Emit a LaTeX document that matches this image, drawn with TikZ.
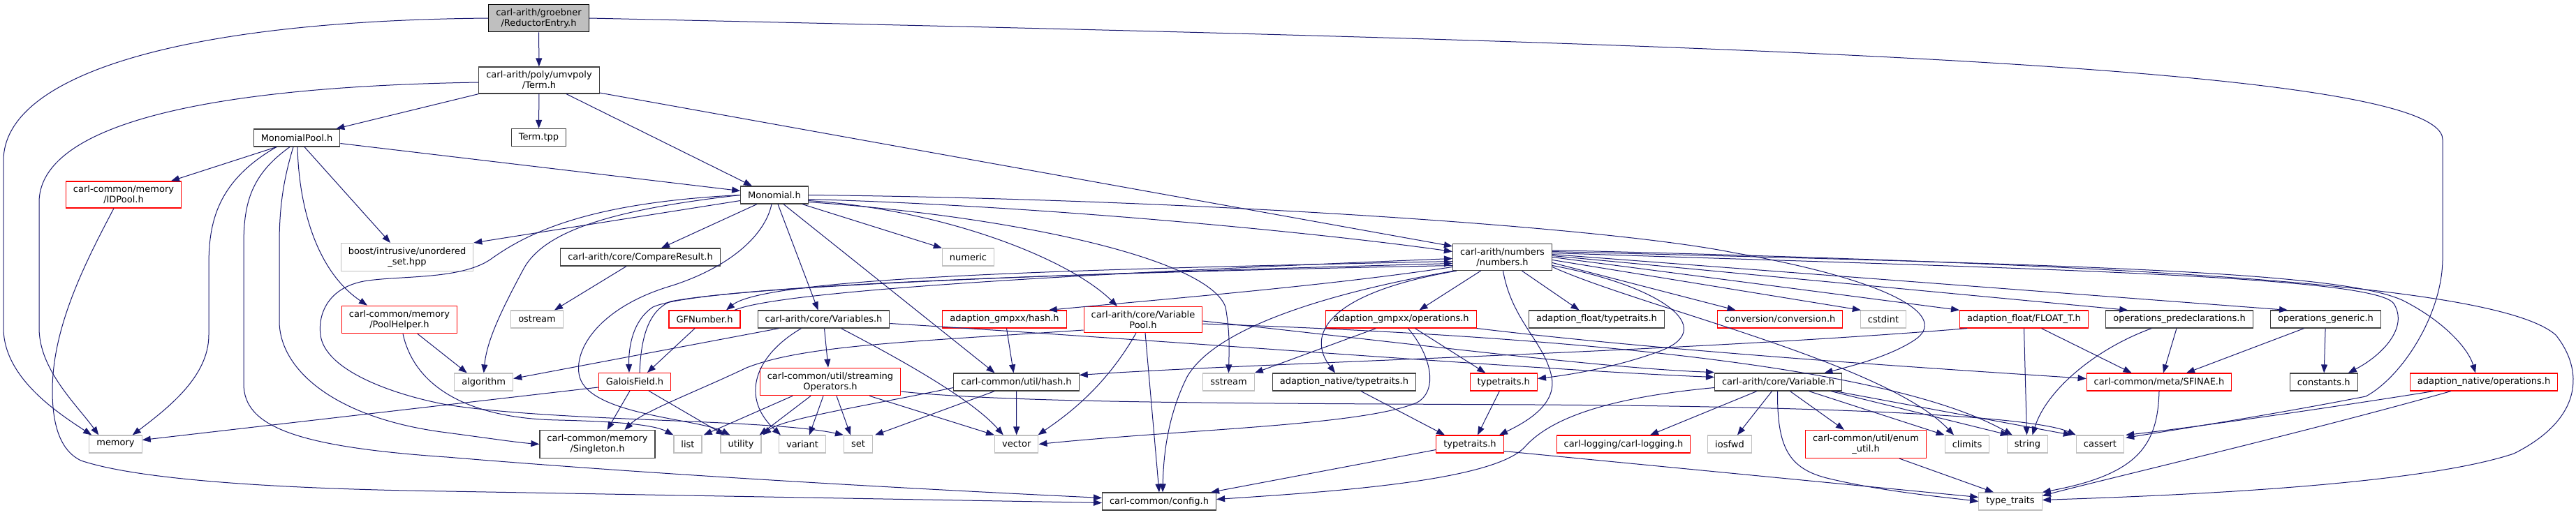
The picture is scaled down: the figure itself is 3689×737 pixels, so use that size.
\documentclass[tikz,border=0pt]{standalone}
\usepackage{fontspec}
\setmainfont{DejaVu Sans}
\usepackage{tikz}
\usetikzlibrary{arrows.meta, calc}
\definecolor{edgeblue}{RGB}{25,25,112}
\definecolor{boxgrey}{RGB}{64,64,64}
\definecolor{sysgrey}{RGB}{191,191,191}
\definecolor{rootfill}{RGB}{191,191,191}

\begin{document}
\begin{tikzpicture}[
    x=1pt, y=-1pt,
    base/.style={rectangle, line width=1.2pt, align=center, inner xsep=10.5pt, inner ysep=6pt,
                 minimum height=25pt, font=\fontsize{13}{15}\selectfont, fill=white},
    rootbox/.style={base, draw=black, fill=rootfill},
    filebox/.style={base, draw=boxgrey},
    redbox/.style={base, draw=red},
    sysbox/.style={base, draw=sysgrey},
    incl/.style={draw=edgeblue, line width=1pt, -{Triangle[length=12pt, width=9pt]}}
]
\path[use as bounding box, fill=white] (0,0) rectangle (3689,737);

\node[rootbox] (reductor) at (771.5,26) {carl-arith/groebner\\/ReductorEntry.h};
\node[filebox] (term) at (772,115) {carl-arith/poly/umvpoly\\/Term.h};
\node[filebox] (termtpp) at (771.5,197) {Term.tpp};
\node[filebox] (monopool) at (425,197.5) {MonomialPool.h};
\node[redbox] (idpool) at (177,279) {carl-common/memory\\/IDPool.h};
\node[filebox] (monomial) at (1109,279.5) {Monomial.h};
\node[sysbox] (boost) at (583,368.5) {boost/intrusive/unordered\\\_set.hpp};
\node[filebox] (compare) at (917,368.5) {carl-arith/core/CompareResult.h};
\node[sysbox] (numeric) at (1386.5,368.5) {numeric};
\node[filebox] (numbers) at (2151.5,368.5) {carl-arith/numbers\\/numbers.h};
\node[sysbox] (memory) at (165.5,636.5) {memory};
\node[redbox] (poolhelper) at (572,458) {carl-common/memory\\/PoolHelper.h};
\node[sysbox] (ostream) at (769,457.5) {ostream};
\node[sysbox] (algorithm) at (692.75,547.5) {algorithm};
\node[redbox] (gfnumber) at (1009,457.5) {GFNumber.h};
\node[filebox] (variables) at (1179.5,457.5) {carl-arith/core/Variables.h};
\node[redbox] (galois) at (909,547) {GaloisField.h};
\node[redbox] (streamops) at (1189,547) {carl-common/util/streaming\\Operators.h};
\node[filebox] (singleton) at (855.5,636.5) {carl-common/memory\\/Singleton.h};
\node[sysbox] (list) at (985,636.5) {list};
\node[sysbox] (utility) at (1061,636.5) {utility};
\node[sysbox] (variant) at (1149,636.5) {variant};
\node[sysbox] (set) at (1229,636.5) {set};
\node[redbox] (gmpxxhash) at (1438.5,457.5) {adaption\_gmpxx/hash.h};
\node[redbox] (varpool) at (1637,458) {carl-arith/core/Variable\\Pool.h};
\node[filebox] (utilhash) at (1455.5,547.5) {carl-common/util/hash.h};
\node[sysbox] (sstream) at (1759.5,547.5) {sstream};
\node[sysbox] (vector) at (1455.75,636.5) {vector};
\node[filebox] (config) at (1660,718.5) {carl-common/config.h};
\node[redbox] (gmpxxops) at (2006.5,457.5) {adaption\_gmpxx/operations.h};
\node[filebox] (floattt) at (2286.5,457.5) {adaption\_float/typetraits.h};
\node[filebox] (nativett) at (1925,547.5) {adaption\_native/typetraits.h};
\node[redbox] (ttupper) at (2153.25,547.5) {typetraits.h};
\node[redbox] (ttlower) at (2105,636.5) {typetraits.h};
\node[redbox] (logging) at (2325,636.5) {carl-logging/carl-logging.h};
\node[redbox] (conversion) at (2549,457.5) {conversion/conversion.h};
\node[sysbox] (cstdint) at (2697,457.5) {cstdint};
\node[redbox] (floatT) at (2898.5,457.5) {adaption\_float/FLOAT\_T.h};
\node[filebox] (opspre) at (3121,457.5) {operations\_predeclarations.h};
\node[filebox] (opsgen) at (3330.5,457.5) {operations\_generic.h};
\node[filebox] (variable) at (2546.5,547.5) {carl-arith/core/Variable.h};
\node[redbox] (sfinae) at (3092,547.5) {carl-common/meta/SFINAE.h};
\node[filebox] (constants) at (3327.75,547.5) {constants.h};
\node[redbox] (nativeops) at (3557,547.5) {adaption\_native/operations.h};
\node[sysbox] (iosfwd) at (2477,636.5) {iosfwd};
\node[redbox] (enumutil) at (2672,636.5) {carl-common/util/enum\\\_util.h};
\node[sysbox] (climits) at (2817,636.5) {climits};
\node[sysbox] (string) at (2903.5,636.5) {string};
\node[sysbox] (cassert) at (3007.5,636.5) {cassert};
\node[sysbox] (typetraits) at (2879,718.5) {type\_traits};

% ReductorEntry.h and Term.h
\draw[incl] (reductor) -- (term);
\draw[incl] (reductor.west) .. controls (250,30) and (5,110) .. (5,230) -- (5,470) .. controls (5,540) and (80,590) .. ($(memory.north west)+(4,0)$);
\draw[incl] (reductor.east) .. controls (2400,60) and (3498,90) .. (3498,200) -- (3498,370) .. controls (3498,450) and (3440,540) .. (3388,568) .. controls (3250,595) and (3120,615) .. ($(cassert.north east)+(2,4)$);
\draw[incl] (term) -- (termtpp);
\draw[incl] (term.south west) -- ($(monopool.north east)+(-6,0)$);
\draw[incl] ($(term.south)+(39,0)$) -- ($(monomial.north)+(-32,0)$);
\draw[incl] ($(term.east)+(0,18)$) -- ($(numbers.north west)+(0,4)$);
\draw[incl] ($(term.west)+(0,3)$) .. controls (250,125) and (56,190) .. (56,290) -- (56,470) .. controls (56,530) and (110,580) .. ($(memory.north west)+(14,0)$);

% MonomialPool.h
\draw[incl] ($(monopool.south)+(-29,0)$) -- ($(idpool.north)+(68,0)$);
\draw[incl] ($(monopool.east)+(0,8)$) -- ($(monomial.west)+(0,-6)$);
\draw[incl] ($(monopool.south)+(11,0)$) -- ($(boost.north)+(-24,0)$);
\draw[incl] ($(monopool.south)+(1,0)$) .. controls (428,300) and (455,390) .. ($(poolhelper.north)+(-46,0)$);
\draw[incl] ($(monopool.south)+(-29,0)$) .. controls (310,260) and (299,320) .. (299,380) -- (299,480) .. controls (299,540) and (240,585) .. ($(memory.north east)+(-14,0)$);
\draw[incl] ($(monopool.south)+(-10,0)$) .. controls (360,250) and (349,290) .. (349,350) -- (349,550) .. controls (349,610) and (420,640) .. (640,655) .. controls (1000,685) and (1400,705) .. ($(config.west)+(0,-5)$);
\draw[incl] ($(monopool.south)+(-5,0)$) .. controls (405,260) and (400,300) .. (400,350) -- (400,460) .. controls (400,530) and (480,600) .. (640,620) .. controls (700,628) and (740,634) .. (singleton.west);
\draw[incl] ($(idpool.south)+(-14,0)$) .. controls (120,380) and (75,470) .. (75,560) .. controls (75,625) and (95,650) .. (116,660) .. controls (220,695) and (500,702) .. (640,704) -- ($(config.west)+(0,2)$);
\draw[incl] ($(poolhelper.south)+(26,0)$) -- ($(algorithm.north)+(-24,0)$);
\draw[incl] ($(poolhelper.south)+(5,0)$) .. controls (595,560) and (680,600) .. (800,602) .. controls (880,604) and (935,608) .. (list.north west);

% Monomial.h
\draw[incl] (monomial.west) .. controls (850,290) and (760,330) .. (702,372) .. controls (660,400) and (580,395) .. (527,402) .. controls (470,410) and (455,450) .. (459,480) .. controls (465,530) and (560,565) .. (640,580) .. controls (800,605) and (1100,600) .. (set.north west);
\draw[incl] (monomial.west) .. controls (880,300) and (780,330) .. (750,385) .. controls (715,450) and (697,490) .. (algorithm.north);
\draw[incl] ($(monomial.west)+(0,8)$) -- (boost.north east);
\draw[incl] ($(monomial.south)+(-25,0)$) -- ($(compare.north)+(30,0)$);
\draw[incl] ($(monomial.south)+(-4,0)$) .. controls (1095,340) and (1040,385) .. (960,410) .. controls (860,440) and (820,500) .. (830,540) .. controls (845,595) and (1000,600) .. ($(utility.north west)+(14,0)$);
\draw[incl] ($(monomial.south)+(5,0)$) -- ($(variables.north)+(-8,0)$);
\draw[incl] ($(monomial.south)+(13,0)$) -- ($(utilhash.north)+(-31,0)$);
\draw[incl] ($(monomial.south east)+(-9,0)$) -- (numeric.north west);
\draw[incl] ($(monomial.east)+(0,6)$) .. controls (1500,295) and (1900,335) .. ($(numbers.west)+(0,-8)$);
\draw[incl] (monomial.east) .. controls (1700,285) and (2300,325) .. (2482,362) .. controls (2700,400) and (2790,450) .. (2745,485) .. controls (2710,510) and (2650,525) .. ($(variable.north)+(66,0)$);
\draw[incl] ($(monomial.east)+(0,8)$) .. controls (1350,300) and (1530,370) .. ($(varpool.north)+(-37,0)$);
\draw[incl] ($(monomial.east)+(0,10)$) .. controls (1450,310) and (1730,370) .. (1755,440) .. controls (1762,480) and (1760,505) .. (sstream.north);
\draw[incl] ($(compare.south)+(-20,0)$) -- ($(ostream.north)+(25,0)$);

% GFNumber.h, GaloisField.h, Variables.h
\draw[incl] ($(numbers.west)+(0,6)$) .. controls (1600,385) and (1100,395) .. ($(gfnumber.north)+(31,0)$);
\draw[incl] ($(gfnumber.north)+(43,0)$) .. controls (1120,415) and (1600,390) .. ($(numbers.west)+(0,2)$);
\draw[incl] ($(numbers.west)+(0,12)$) .. controls (1500,392) and (1000,410) .. (935,440) .. controls (905,460) and (900,500) .. ($(galois.north)+(-8,0)$);
\draw[incl] ($(galois.north)+(7,0)$) .. controls (918,480) and (930,445) .. (960,432) .. controls (1100,405) and (1700,388) .. ($(numbers.west)+(0,9)$);
\draw[incl] ($(gfnumber.south)+(-14,0)$) -- ($(galois.north)+(18,0)$);
\draw[incl] ($(galois.west)+(0,8)$) -- ($(memory.east)+(0,-6)$);
\draw[incl] ($(galois.south)+(-7,0)$) -- ($(singleton.north)+(14,0)$);
\draw[incl] ($(galois.south)+(20,0)$) -- ($(utility.north west)+(6,0)$);
\draw[incl] ($(variables.south west)+(31,0)$) -- ($(algorithm.east)+(0,-5)$);
\draw[incl] ($(variables.south)+(-32,0)$) .. controls (1080,510) and (1060,570) .. ($(variant.north west)+(3,0)$);
\draw[incl] ($(variables.south)+(1,0)$) -- ($(streamops.north)+(-3,0)$);
\draw[incl] ($(variables.south)+(25,0)$) .. controls (1280,510) and (1390,570) .. ($(vector.north)+(-19,0)$);
\draw[incl] ($(variables.east)+(0,6)$) .. controls (1700,490) and (2200,530) .. ($(variable.west)+(0,-7)$);

% VariablePool.h, streamingOperators.h, hash.h
\draw[incl] ($(varpool.east)+(0,2)$) .. controls (2000,490) and (2300,528) .. ($(variable.west)+(0,-14)$);
\draw[incl] ($(varpool.east)+(0,6)$) .. controls (2200,480) and (2700,520) .. ($(string.north west)+(8,0)$);
\draw[incl] ($(varpool.west)+(0,15)$) .. controls (1300,490) and (1150,495) .. (1069,527) .. controls (1000,560) and (920,590) .. ($(singleton.north)+(39,0)$);
\draw[incl] ($(varpool.south)+(-10,0)$) .. controls (1580,560) and (1520,600) .. ($(vector.north east)+(-1,0)$);
\draw[incl] ($(varpool.south)+(3,0)$) -- (config.north);
\draw[incl] ($(streamops.south)+(-54,0)$) -- ($(list.north east)+(2,0)$);
\draw[incl] ($(streamops.south)+(-28,0)$) -- ($(utility.north east)+(-3,0)$);
\draw[incl] ($(streamops.south)+(-10,0)$) -- ($(variant.north)+(10,0)$);
\draw[incl] ($(streamops.south)+(9,0)$) -- ($(set.north)+(-11,0)$);
\draw[incl] ($(streamops.south east)+(-45,0)$) -- (vector.north west);
\draw[incl] ($(streamops.east)+(0,14)$) .. controls (1450,578) and (1800,578) .. (2200,580) .. controls (2700,583) and (2920,600) .. (cassert.north west);
\draw[incl] ($(utilhash.south west)+(59,0)$) -- ($(set.north east)+(3,0)$);
\draw[incl] (utilhash) -- (vector);
\draw[incl] ($(utilhash.west)+(0,8)$) .. controls (1250,580) and (1120,600) .. ($(utility.north east)+(2,0)$);
\draw[incl] ($(gmpxxhash.south)+(3,0)$) -- ($(utilhash.north)+(-4,0)$);

% numbers.h
\draw[incl] ($(numbers.west)+(0,14)$) .. controls (1900,410) and (1650,430) .. ($(gmpxxhash.north east)+(-26,0)$);
\draw[incl] ($(numbers.south west)+(2,0)$) .. controls (1900,420) and (1740,470) .. (1700,540) .. controls (1670,600) and (1666,660) .. ($(config.north)+(5,0)$);
\draw[incl] ($(numbers.south west)+(6,0)$) .. controls (1900,420) and (1870,480) .. ($(nativett.north)+(-13,0)$);
\draw[incl] ($(numbers.south)+(-31,0)$) -- ($(gmpxxops.north)+(26,0)$);
\draw[incl] ($(numbers.south)+(28,0)$) -- ($(floattt.north)+(-25,0)$);
\draw[incl] ($(numbers.south)+(1,0)$) .. controls (2165,460) and (2212,490) .. (2222,540) .. controls (2230,580) and (2185,605) .. ($(ttlower.north)+(42,0)$);
\draw[incl] ($(numbers.east)+(0,12)$) .. controls (2380,410) and (2460,470) .. (2380,502) .. controls (2320,525) and (2250,537) .. ($(ttupper.east)+(0,-5)$);
\draw[incl] ($(numbers.east)+(0,8)$) -- ($(conversion.north west)+(27,0)$);
\draw[incl] ($(numbers.east)+(0,4)$) -- ($(cstdint.north west)+(1,0)$);
\draw[incl] (numbers.east) -- (floatT.north west);
\draw[incl] ($(numbers.east)+(0,-2)$) -- ($(opspre.north west)+(32,0)$);
\draw[incl] ($(numbers.east)+(0,-4)$) -- ($(opsgen.north west)+(25,0)$);
\draw[incl] ($(numbers.east)+(0,-6)$) .. controls (2900,385) and (3400,395) .. (3428,435) .. controls (3450,470) and (3410,510) .. ($(constants.north)+(35,0)$);
\draw[incl] ($(numbers.east)+(0,-8)$) .. controls (3000,380) and (3350,390) .. (3440,430) .. controls (3500,460) and (3535,500) .. ($(nativeops.north)+(-12,0)$);
\draw[incl] ($(numbers.east)+(0,-10)$) .. controls (3100,380) and (3580,410) .. (3660,480) .. controls (3700,530) and (3700,600) .. (3600,650) .. controls (3450,700) and (3050,712) .. ($(typetraits.east)+(0,-2)$);
\draw[incl] ($(numbers.east)+(0,14)$) .. controls (2350,440) and (2700,520) .. ($(climits.north)+(-19,0)$);

% adaption and typetraits headers
\draw[incl] ($(gmpxxops.south)+(-36,0)$) -- (sstream.north east);
\draw[incl] ($(gmpxxops.south)+(10,0)$) .. controls (2050,510) and (2060,560) .. (2029,577) .. controls (1950,610) and (1700,615) .. (vector.east);
\draw[incl] ($(gmpxxops.south)+(20,0)$) -- ($(ttupper.north)+(-26,0)$);
\draw[incl] ($(gmpxxops.east)+(0,13)$) .. controls (2400,505) and (2800,530) .. ($(sfinae.west)+(0,-5)$);
\draw[incl] ($(nativett.south)+(24,0)$) -- ($(ttlower.north)+(-36,0)$);
\draw[incl] ($(ttupper.south)+(-6,0)$) -- ($(ttlower.north)+(11,0)$);
\draw[incl] ($(ttlower.west)+(0,8)$) -- ($(config.north east)+(-8,0)$);
\draw[incl] ($(ttlower.east)+(0,10)$) -- ($(typetraits.west)+(0,-6)$);

% Variable.h
\draw[incl] ($(variable.west)+(0,8)$) .. controls (2300,570) and (2220,600) .. (2184,640) .. controls (2140,690) and (1900,705) .. ($(config.east)+(0,-3)$);
\draw[incl] ($(variable.south west)+(61,0)$) -- ($(logging.north)+(38,0)$);
\draw[incl] ($(variable.south)+(-9,0)$) -- ($(iosfwd.north)+(11,0)$);
\draw[incl] ($(variable.south)+(-1,0)$) .. controls (2545,640) and (2560,672) .. (2620,686) .. controls (2700,705) and (2790,713) .. (typetraits.west);
\draw[incl] ($(variable.south)+(17,0)$) -- ($(enumutil.north)+(-31,0)$);
\draw[incl] ($(variable.south)+(44,0)$) -- (climits.north west);
\draw[incl] ($(variable.south east)+(-16,0)$) -- ($(string.north west)+(3,0)$);
\draw[incl] ($(variable.south east)+(-10,0)$) -- ($(cassert.north west)+(-6,0)$);
\draw[incl] ($(enumutil.south)+(48,0)$) -- ($(typetraits.north)+(-24,0)$);

% FLOAT_T.h and operations headers
\draw[incl] ($(floatT.south west)+(11,0)$) .. controls (2400,505) and (1800,520) .. ($(utilhash.east)+(0,-10)$);
\draw[incl] (floatT.south) -- ($(string.north)+(-1,0)$);
\draw[incl] ($(floatT.south)+(25,0)$) -- ($(sfinae.north west)+(65,0)$);
\draw[incl] ($(opspre.south west)+(66,0)$) .. controls (3000,500) and (2930,560) .. ($(string.north)+(7,0)$);
\draw[incl] ($(opspre.south)+(-4,0)$) -- ($(sfinae.north)+(6,0)$);
\draw[incl] ($(opsgen.south)+(-31,0)$) -- ($(sfinae.north)+(39,0)$);
\draw[incl] (opsgen) -- (constants);
\draw[incl] ($(nativeops.south west)+(34,0)$) .. controls (3300,590) and (3120,615) .. ($(cassert.north east)+(2,0)$);
\draw[incl] ($(nativeops.south west)+(59,0)$) .. controls (3300,620) and (3000,690) .. ($(typetraits.east)+(0,-8)$);
\draw[incl] (sfinae.south) .. controls (3090,640) and (3060,680) .. (typetraits.north east);
\end{tikzpicture}
\end{document}
